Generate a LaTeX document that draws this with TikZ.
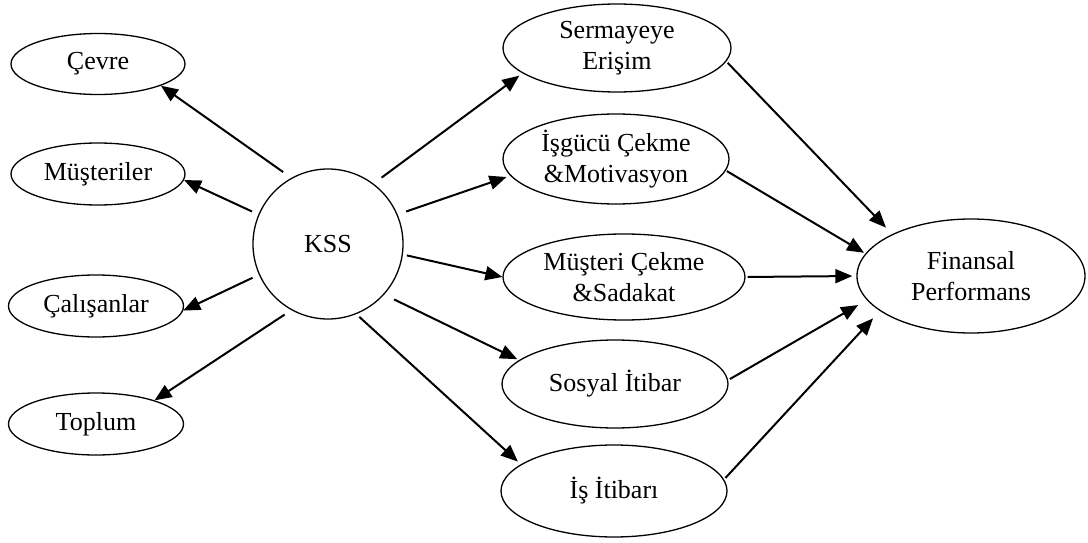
\documentclass[tikz,border=0pt]{standalone}
\usepackage{fontspec}
\setmainfont{Liberation Serif}
\usetikzlibrary{shapes.geometric,arrows.meta}

\begin{document}
\begin{tikzpicture}[x=1pt,y=-1pt,
  txt/.style={font=\fontsize{26}{30.5}\selectfont, align=center, inner sep=0pt},
  oval/.style={txt, ellipse, draw, line width=1.3pt},
  ring/.style={txt, circle, draw, line width=1.3pt},
  link/.style={line width=2pt, -{Triangle[length=17pt,width=14pt]}}]
\useasboundingbox (0,0) rectangle (1088,543);

% stakeholders on the left
\node[oval, minimum width=174pt, minimum height=61pt] (cevre)  at (98,64)  {Çevre};
\node[oval, minimum width=174pt, minimum height=62pt] (must)   at (98,174) {Müşteriler};
\node[oval, minimum width=175pt, minimum height=62pt] (cal)    at (96,306) {Çalışanlar};
\node[oval, minimum width=175pt, minimum height=62pt] (toplum) at (96,424) {Toplum};

% central concept
\node[ring, minimum size=150pt] (kss) at (328,244) {KSS};

% mediating outcomes
\node[oval, minimum width=228pt, minimum height=88pt] (serm)    at (617,48)  {Sermayeye\\Erişim};
\node[oval, minimum width=226pt, minimum height=90pt] (isgucu)  at (616,159) {İşgücü Çekme\\\&Motivasyon};
\node[oval, minimum width=242pt, minimum height=86pt] (musteri) at (624,277) {Müşteri Çekme\\\&Sadakat};
\node[oval, minimum width=226pt, minimum height=88pt] (sosyal)  at (615,384) {Sosyal İtibar};
\node[oval, minimum width=226pt, minimum height=92pt] (is)      at (614,491) {İş İtibarı};

% final outcome
\node[oval, minimum width=228pt, minimum height=114pt] (fin) at (971,276) {Finansal\\Performans};

% KSS towards stakeholders
\draw[link, shorten <=10pt] (kss.119)  -- (cevre.-19.5);
\draw[link, shorten <=7pt]  (kss.157)  -- (must.-4);
\draw[link, shorten <=7pt]  (kss.-156) -- (cal.-3);
\draw[link, shorten <=8pt]  (kss.-119) -- (toplum.22);

% KSS towards outcomes
\draw[link, shorten <=10pt, shorten >=4pt] (kss.53)  -- (serm.195);
\draw[link, shorten <=9pt,  shorten >=4pt] (kss.23)  -- (isgucu.189);
\draw[link, shorten <=4pt]                 (kss.-8)  -- (musteri.180);
\draw[link, shorten <=11pt, shorten >=2pt] (kss.-42) -- (sosyal.166);
\draw[link, shorten <=4pt,  shorten >=4pt] (kss.-68) -- (is.164);

% outcomes towards financial performance
\draw[link, shorten <=2pt, shorten >=9pt]   (serm.-7)     -- (fin.152);
\draw[link, shorten <=1pt, shorten >=1.5pt] (isgucu.-6.5) -- (fin.168);
\draw[link, shorten <=2pt, shorten >=4pt]   (musteri.0)   -- (fin.180);
\draw[link, shorten <=2pt, shorten >=10pt]  (sosyal.2.5)  -- (fin.193);
\draw[link, shorten <=2pt, shorten >=10pt]  (is.6.6)      -- (fin.201.5);
\end{tikzpicture}
\end{document}
